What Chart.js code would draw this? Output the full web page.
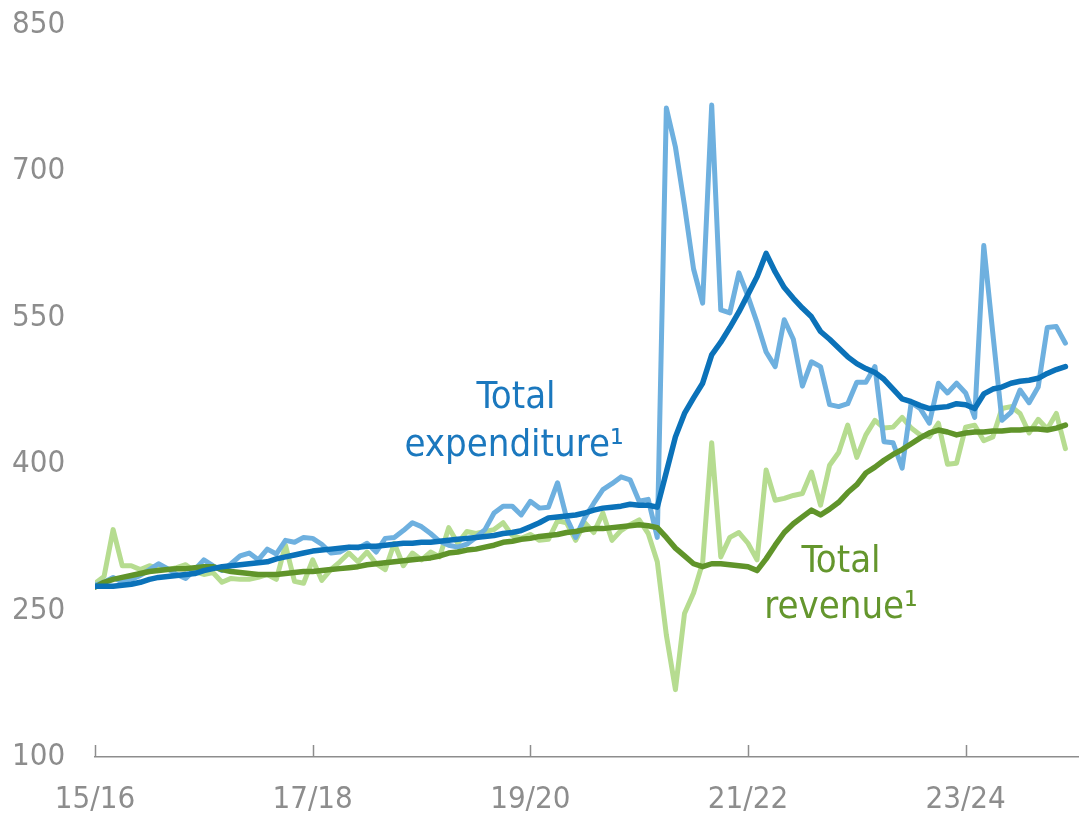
<!DOCTYPE html>
<html>
<head>
<meta charset="utf-8">
<script src="https://cdn.jsdelivr.net/npm/chart.js@4.4.1/dist/chart.umd.min.js"></script>
<style>
  html, body { margin: 0; padding: 0; background: #fff; }
  #wrap { width: 1079px; height: 823px; position: relative; }
</style>
</head>
<body>
<div id="wrap"><canvas id="chart"></canvas></div>
<script>
// monthly values, April 2015 to March 2024 (index 0 = Apr 2015)
const expenditureMonthly = [
  276, 279, 284, 279, 282, 286, 292, 298, 293, 287, 283, 292,
  302, 296, 291, 298, 306, 309, 302, 313, 308, 322, 320, 325,
  324, 318, 309, 310, 315, 314, 319, 310, 324, 325, 332, 340,
  336, 329, 321, 317, 315, 318, 325, 333, 350, 357, 357, 348,
  362, 355, 356, 381, 345, 325, 345, 360, 374, 380, 387, 384,
  362, 364, 325, 765, 725, 665, 600, 565, 768, 558, 555, 596,
  572, 545, 515, 500, 548, 528, 480, 505, 500, 461, 459, 462,
  484, 484, 500, 423, 422, 396, 463, 457, 442, 483, 473, 483,
  473, 448, 624, 534, 445, 453, 476, 463, 479, 540, 541, 524
];
const expenditureTrend = [
  275, 275, 275, 276, 277, 279, 282, 284, 285, 286, 287, 288,
  291, 293, 295, 296, 297, 298, 299, 300, 303, 305, 307, 309,
  311, 312, 313, 314, 315, 315, 316, 316, 317, 318, 319, 319,
  320, 320, 321, 322, 323, 324, 325, 326, 327, 329, 330, 332,
  336, 340, 345, 346, 347, 348, 350, 353, 355, 356, 357, 359,
  358, 358, 356, 392, 428, 452, 468, 483, 512, 525, 540, 556,
  574, 592, 616, 597, 581, 570, 560, 551, 536, 528, 519, 510,
  503, 498, 494, 487, 477, 467, 464, 460, 457, 458, 459, 462,
  461, 457, 472, 477, 479, 483, 485, 486, 488, 493, 497, 500
];
const revenueMonthly = [
  278, 285, 333, 296, 296, 292, 296, 293, 292, 294, 297, 290,
  287, 289, 279, 283, 282, 282, 284, 287, 282, 317, 280, 278,
  302, 281, 292, 300, 309, 300, 310, 298, 292, 319, 296, 309,
  302, 310, 305, 335, 319, 331, 329, 331, 333, 340, 327, 324,
  328, 322, 323, 342, 340, 322, 340, 330, 350, 322, 332, 338,
  343, 329, 300, 225, 169, 247, 268, 299, 422, 305, 325, 330,
  319, 302, 394, 363, 365, 368, 370, 392, 358, 399, 412, 440,
  407, 430, 445, 437, 438, 448, 437, 430, 428, 442, 400, 401,
  438, 440, 424, 428, 457, 459, 452, 432, 446, 436, 452, 416
];
const revenueTrend = [
  274, 279, 282, 284, 286, 288, 290, 291, 292, 293, 293, 294,
  295, 295, 292, 290, 289, 288, 287, 287, 287, 288, 289, 290,
  290, 291, 292, 293, 294, 295, 297, 298, 299, 300, 301, 302,
  303, 304, 306, 309, 310, 312, 313, 315, 317, 320, 321, 323,
  324, 326, 327, 328, 330, 331, 333, 334, 334, 335, 336, 337,
  338, 337, 335, 325, 314, 306, 298, 295, 298, 298, 297, 296,
  295, 291, 303, 317, 330, 339, 346, 353, 348, 354, 361, 371,
  379, 391, 397, 404, 410, 415, 421, 427, 432, 435, 433, 430,
  432, 433, 433, 434, 434, 435, 435, 436, 436, 435, 437, 440
];

const tickMonths = [0, 24, 48, 72, 96];
const tickLabels = ['15/16', '17/18', '19/20', '21/22', '23/24'];
const yTicks = [100, 250, 400, 550, 700, 850];

const FONT = "'DejaVu Sans Condensed', 'Liberation Sans Narrow', sans-serif";
const GREY = '#8d8d8d';

const toPoints = (arr) => arr.map((v, i) => ({ x: i, y: v }));

// small tick marks standing up from the x axis, plus the two series labels
const extras = {
    id: 'extras',
    afterDraw(chart) {
        const { ctx, scales: { x } } = chart;
        ctx.save();
        ctx.strokeStyle = GREY;
        ctx.lineWidth = 1.5;
        for (const m of tickMonths) {
            const px = Math.round(x.getPixelForValue(m)) + 0.5;
            ctx.beginPath();
            ctx.moveTo(px, x.top);
            ctx.lineTo(px, x.top - 12);
            ctx.stroke();
        }
        ctx.textAlign = 'center';
        ctx.textBaseline = 'middle';
        ctx.font = '38px ' + FONT;
        ctx.fillStyle = '#1b78be';
        ctx.fillText('Total', 516, 398);
        ctx.fillText('expenditure\u00B9', 514, 446);
        ctx.fillStyle = '#64962d';
        ctx.fillText('Total', 841, 562);
        ctx.fillText('revenue\u00B9', 841, 608);
        ctx.restore();
    }
};

new Chart(document.getElementById('chart'), {
    type: 'line',
    data: {
        datasets: [
            { data: toPoints(expenditureTrend), borderColor: '#0b72b9', borderWidth: 5.5, order: 1 },
            { data: toPoints(revenueTrend), borderColor: '#60942a', borderWidth: 5.5, order: 2 },
            { data: toPoints(expenditureMonthly), borderColor: '#6eb0df', borderWidth: 5, order: 3 },
            { data: toPoints(revenueMonthly), borderColor: '#b6dc90', borderWidth: 5, order: 4 }
        ]
    },
    options: {
        responsive: true,
        maintainAspectRatio: false,
        animation: false,
        layout: { padding: { left: 12, top: 25, right: 0, bottom: 0 } },
        elements: {
            point: { radius: 0 },
            line: { tension: 0, borderJoinStyle: 'round', borderCapStyle: 'round', fill: false }
        },
        plugins: {
            legend: { display: false },
            tooltip: { enabled: false }
        },
        scales: {
            x: {
                type: 'linear',
                min: 0,
                max: 108.5,
                grid: { display: false, drawTicks: false },
                border: { display: true, color: GREY, width: 1.5 },
                afterBuildTicks: (s) => { s.ticks = tickMonths.map(v => ({ value: v })); },
                afterFit: (s) => { s.height = 66; },
                ticks: {
                    autoSkip: false,
                    maxRotation: 0,
                    padding: 24,
                    color: GREY,
                    font: { family: FONT, size: 31 },
                    callback: (v) => tickLabels[tickMonths.indexOf(v)]
                }
            },
            y: {
                min: 100,
                max: 850,
                grid: { display: false, drawTicks: false },
                border: { display: false },
                afterBuildTicks: (s) => { s.ticks = yTicks.map(v => ({ value: v })); },
                afterFit: (s) => { s.width = 83; },
                ticks: {
                    crossAlign: 'far',
                    color: GREY,
                    font: { family: FONT, size: 31 }
                }
            }
        }
    },
    plugins: [extras]
});
</script>
</body>
</html>
